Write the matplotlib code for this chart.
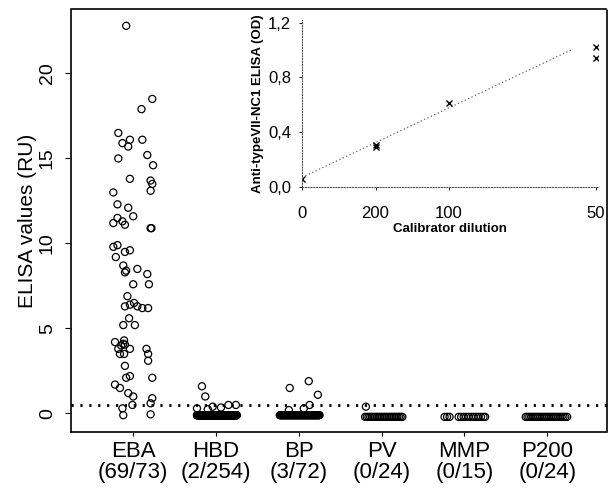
import numpy as np
import matplotlib
matplotlib.use("Agg")
import matplotlib.pyplot as plt

plt.rcParams['font.family'] = ['Liberation Sans', 'DejaVu Sans']

# ---------------- data ----------------
categories = ["EBA", "HBD", "BP", "PV", "MMP", "P200"]
counts = ["(69/73)", "(2/254)", "(3/72)", "(0/24)", "(0/15)", "(0/24)"]

eba_values = [22.8, 18.5, 17.9, 16.5, 15.9, 16.1, 15.7, 16.1, 15.0, 15.2,
              14.6, 13.8, 13.5, 13.7, 13.1, 13.0, 12.3, 12.1, 11.6, 11.2,
              11.5, 11.3, 11.1, 10.9, 10.9, 9.8, 9.2, 9.5, 9.6, 8.7,
              8.4, 8.5, 8.2, 7.6, 7.6, 6.9, 6.3, 6.5, 6.3, 6.2,
              6.2, 5.6, 5.2, 5.2, 4.2, 4.1, 4.05, 4.3, 3.8, 3.8,
              3.5, 3.5, 3.8, 3.5, 3.1, 2.8, 2.1, 2.2, 2.1, 1.7,
              1.5, 1.0, 0.9, 0.3, 0.5, -0.1, -0.05, 8.3, 4.0, 0.6,
              6.4, 9.9, 1.2]
eba_offsets = [-0.085, 0.23, 0.10, -0.18, -0.13, -0.04, -0.06, 0.11, -0.18, 0.17,
               0.24, -0.04, 0.23, 0.21, 0.21, -0.24, -0.19, -0.06, 0.0, -0.24,
               -0.19, -0.13, -0.10, 0.21, 0.22, -0.24, -0.21, -0.10, -0.04, -0.12,
               -0.085, 0.05, 0.17, 0.0, 0.19, -0.07, -0.10, 0.01, 0.05, 0.11,
               0.18, -0.05, -0.12, 0.02, -0.22, -0.12, -0.10, -0.11, -0.18, -0.04,
               -0.16, -0.11, 0.16, 0.18, 0.18, -0.10, -0.085, -0.04, 0.23, -0.22,
               -0.16, 0.0, 0.23, -0.13, -0.01, -0.12, 0.21, -0.10, -0.145, 0.21,
               -0.04, -0.19, -0.06]

hbd_high = [1.6, 1.0, 0.4, 0.5, 0.5, 0.3, 0.35, 0.25]
hbd_high_offsets = [-0.17, -0.13, -0.04, 0.15, 0.24, -0.23, 0.06, -0.10]
hbd_low = [-0.1] * 246

bp_high = [1.5, 1.9, 1.1, 0.5, 0.3, 0.2]
bp_high_offsets = [-0.11, 0.12, 0.23, 0.13, 0.06, -0.12]
bp_low = [-0.1] * 66

pv_high = [0.4]
pv_high_offsets = [-0.19]
pv_low = [-0.2] * 23

mmp_low = [-0.2] * 15
mmp_offsets = [-0.24, -0.21, -0.18, -0.07, -0.04, -0.01, 0.02, 0.05, 0.08,
               0.11, 0.14, 0.17, 0.20, 0.23, 0.25]

p200_low = [-0.2] * 24

cutoff = 0.5

# inset: calibrator curve
cal_ticks = [0, 0.005, 0.01, 0.02]
cal_labels = ["0", "200", "100", "50"]
cal_x = [0, 0.005, 0.005, 0.01, 0.02, 0.02]
cal_y = [0.06, 0.31, 0.29, 0.61, 1.02, 0.94]
fit_x = [0, 0.0183]
fit_y = [0.07, 1.0]

# ---------------- figure ----------------
fig = plt.figure(figsize=(6.13, 4.90), dpi=100)
ax = fig.add_axes([0.116, 0.118, 0.874, 0.864])

mk = dict(s=26, facecolors='none', edgecolors='black', linewidths=0.9, zorder=3)

pos = np.arange(1, len(categories) + 1)

ax.scatter(pos[0] + np.array(eba_offsets), eba_values, **mk)

def blob(p, low, lo=-0.23, hi=0.25):
    xs = p + np.linspace(lo, hi, len(low))
    ax.scatter(xs, low, **mk)

ax.scatter(pos[1] + np.array(hbd_high_offsets), hbd_high, **mk)
blob(pos[1], hbd_low)
ax.scatter(pos[2] + np.array(bp_high_offsets), bp_high, **mk)
blob(pos[2], bp_low)
ax.scatter(pos[3] + np.array(pv_high_offsets), pv_high, **mk)
blob(pos[3], pv_low, -0.2, 0.25)
ax.scatter(pos[4] + np.array(mmp_offsets), mmp_low, **mk)
blob(pos[5], p200_low, -0.26, 0.24)

ax.axhline(cutoff, color='black', lw=2.0, linestyle=(0, (0.8, 2.4)), zorder=2)

ax.set_xlim(0.25, 6.72)
ax.set_ylim(-1.1, 23.8)
ax.set_xticks(pos)
ax.set_xticklabels([f"{c}\n{n}" for c, n in zip(categories, counts)],
                   fontsize=16, linespacing=1.05)
ax.set_yticks([0, 5, 10, 15, 20])
ax.set_yticklabels(["0", "5", "10", "15", "20"], fontsize=14, rotation=90, va='center')
ax.tick_params(axis='y', length=4, width=0.8, pad=7)
ax.tick_params(axis='x', length=3, width=0.8, pad=3)
ax.set_ylabel("ELISA values (RU)", fontsize=15)
ax.yaxis.set_label_coords(-0.063, 0.5)
for sp in ax.spines.values():
    sp.set_linestyle((0, (1, 1)))
    sp.set_linewidth(1.2)

# ---------------- inset ----------------
axi = fig.add_axes([0.4927, 0.6184, 0.483, 0.341])
axi.patch.set_alpha(0)
axi.plot(fit_x, fit_y, color='#666666', lw=0.9, linestyle=(0, (1, 2)))
axi.plot(cal_x, cal_y, linestyle='none', marker='x', ms=4, mew=1.0, color='black')
axi.set_xlim(0, 0.02014)
axi.set_ylim(0, 1.22)
axi.set_xticks(cal_ticks)
axi.set_xticklabels(cal_labels, fontsize=12)
axi.set_yticks([0, 0.4, 0.8, 1.2])
axi.set_yticklabels(["0,0", "0,4", "0,8", "1,2"], fontsize=12)
axi.tick_params(axis='x', length=2, width=0.6, pad=12)
axi.tick_params(axis='y', length=2, width=0.6, pad=6)
axi.set_xlabel("Calibrator dilution", fontsize=9.5, fontweight='bold', labelpad=1)
axi.set_ylabel("Anti-typeVII-NC1 ELISA (OD)", fontsize=9.5, fontweight='bold', labelpad=3)
for side in ['top', 'right']:
    axi.spines[side].set_visible(False)
for side in ['left', 'bottom']:
    axi.spines[side].set_linestyle((0, (1, 1.5)))
    axi.spines[side].set_linewidth(0.8)
    axi.spines[side].set_color('#555555')

fig.savefig("out.png", dpi=100)
